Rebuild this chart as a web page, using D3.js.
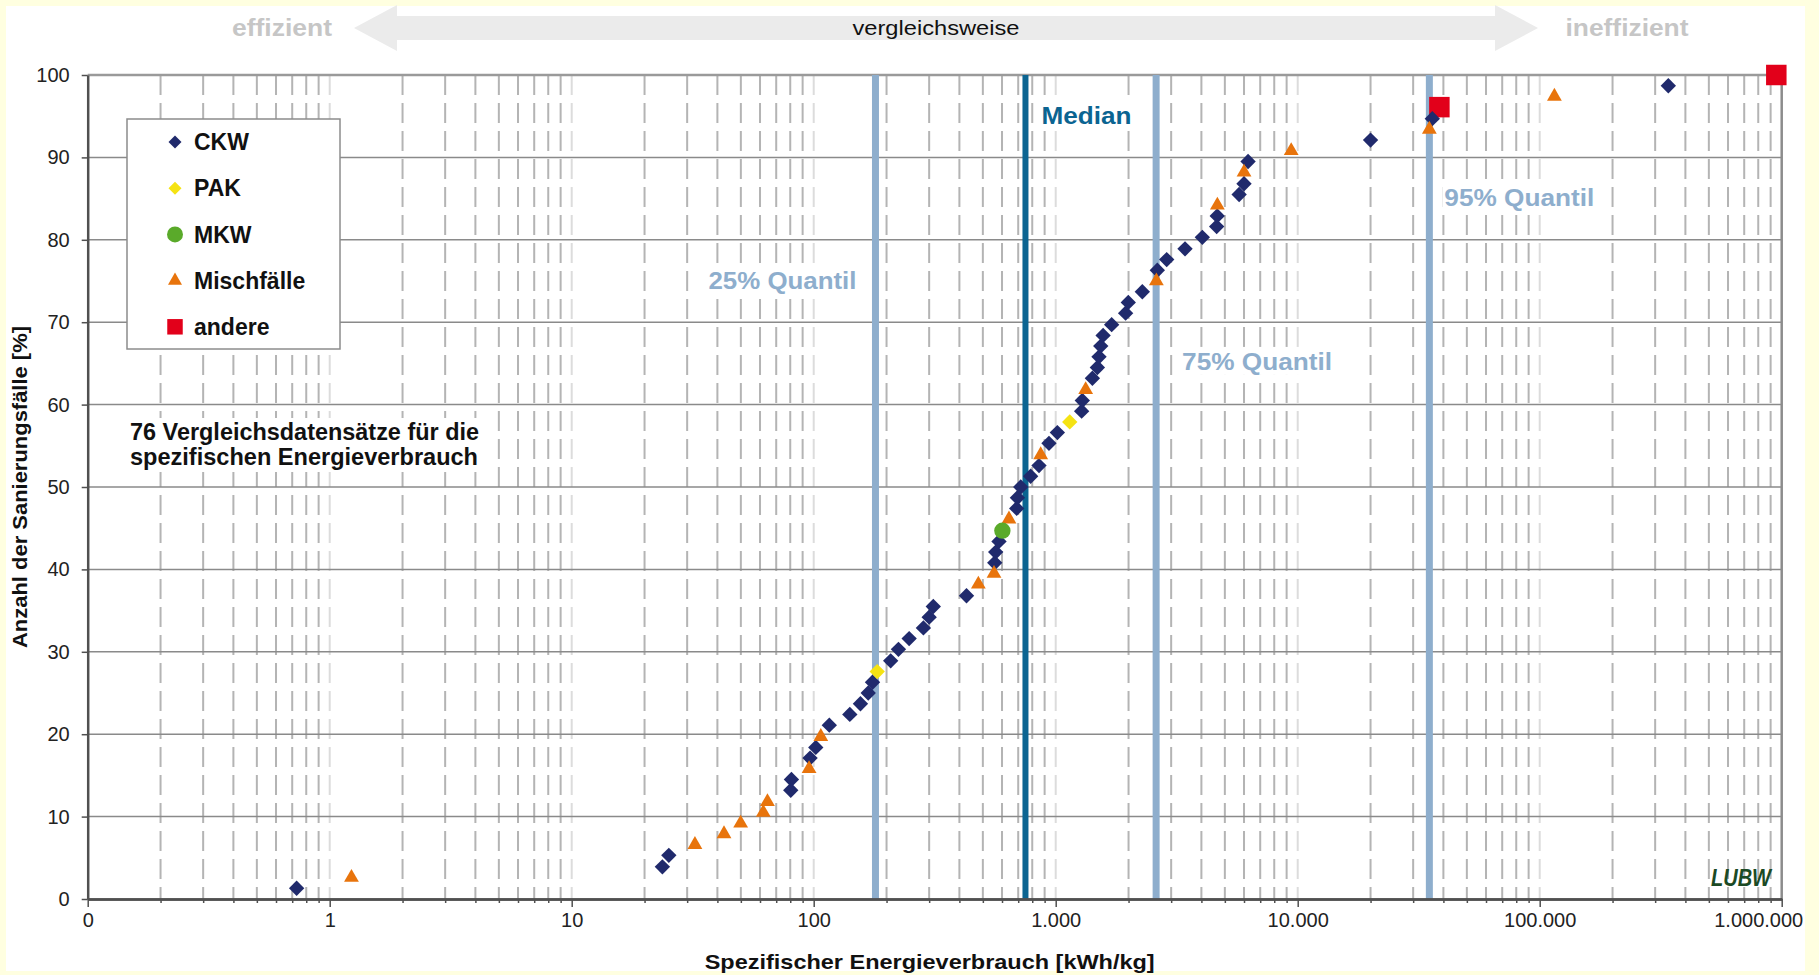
<!DOCTYPE html>
<html>
<head>
<meta charset="utf-8">
<script src="https://cdn.jsdelivr.net/npm/d3@7"></script>
<style>
  body { margin: 0; background: #ffffe0; }
  text { font-family: "Liberation Sans", Arial, sans-serif; }
</style>
</head>
<body>
<div id="chart"></div>
<script>
/* data: x = spezifischer Energieverbrauch [kWh/kg], y = Anzahl der Sanierungsfaelle [%] */
var ckw = [[0.73,1.3],[23.7,3.9],[25.2,5.3],[80.4,13.2],[80.9,14.5],[96.6,17.1],[102,18.4],[116,21.1],
  [141,22.4],[156,23.7],[168,25.0],[175,26.3],[208,28.9],[224,30.3],[248,31.6],[284,32.9],[300,34.2],
  [312,35.5],[428,36.8],[560,40.8],[565,42.1],[583,43.4],[690,47.4],[695,48.7],[717,50.0],[788,51.3],
  [853,52.6],[938,55.3],[1016,56.6],[1280,59.2],[1288,60.5],[1418,63.2],[1487,64.5],[1510,65.8],
  [1535,67.1],[1570,68.4],[1703,69.7],[1945,71.1],[1995,72.4],[2280,73.7],[2630,76.3],[2875,77.6],
  [3423,78.9],[4036,80.3],[4625,81.6],[4650,82.9],[5728,85.5],[6000,86.8],[6237,89.5],[20000,92.1],
  [36000,94.7],[340000,98.7]]
var pak = [[183,27.6],[1143,57.9]]
var mkw = [[602,44.7]]
var misch = [[1.23,2.6],[32.3,6.6],[42.6,7.9],[49.9,9.2],[61.9,10.5],[64.4,11.8],[95.7,15.8],[107,19.7],
  [479,38.2],[556,39.5],[641,46.1],[867,53.9],[1330,61.8],[2606,75.0],[4656,84.2],[6000,88.2],
  [9400,90.8],[35000,93.4],[115000,97.4]]
var andere = [[38500,96.1],[950000,100]]

var quantilNames = ["25% Quantil", "Median", "75% Quantil", "95% Quantil"]
var quantilValues = [180, 750, 2600, 35000]

var xTicks = [0.1, 1, 10, 100, 1000, 10000, 100000, 1000000]
var xTickLabels = ["0", "1", "10", "100", "1.000", "10.000", "100.000", "1.000.000"]
var yTicks = [0, 10, 20, 30, 40, 50, 60, 70, 80, 90, 100]

var legendNames = ["CKW", "PAK", "MKW", "Mischfälle", "andere"]

var width = 1819,
    height = 975;

var svg = d3.select("#chart").append("svg")
    .attr("width", width)
    .attr("height", height)

/* yellow frame + white panel */
svg.append("rect").attr("width", width).attr("height", height).attr("fill", "#ffffe0")
svg.append("rect").attr("x", 6).attr("y", 6).attr("width", 1799).attr("height", 965).attr("fill", "#ffffff")

var x = d3.scaleLog().domain([0.1, 1000000]).range([87.7, 1781.7])
var y = d3.scaleLinear().domain([0, 100]).range([899, 75])

/* top arrow */
var ay = 28
svg.append("polygon")
    .attr("points", [[354,ay],[397,ay-23],[397,ay-12],[1495,ay-12],[1495,ay-23],[1538,ay],
                     [1495,ay+23],[1495,ay+12],[397,ay+12],[397,ay+23]].join(" "))
    .attr("fill", "#ebebeb")

svg.append("text").attr("x", 282).attr("y", ay).attr("dy", "0.35em")
    .attr("text-anchor", "middle").attr("font-weight", "bold").attr("font-size", 23)
    .attr("textLength", 100).attr("lengthAdjust", "spacingAndGlyphs")
    .attr("fill", "#c6c6c6").text("effizient")
svg.append("text").attr("x", 1627).attr("y", ay).attr("dy", "0.35em")
    .attr("text-anchor", "middle").attr("font-weight", "bold").attr("font-size", 23)
    .attr("textLength", 123).attr("lengthAdjust", "spacingAndGlyphs")
    .attr("fill", "#c6c6c6").text("ineffizient")
svg.append("text").attr("x", 936).attr("y", ay).attr("dy", "0.35em")
    .attr("text-anchor", "middle").attr("font-size", 21)
    .attr("textLength", 167).attr("lengthAdjust", "spacingAndGlyphs")
    .attr("fill", "#111").text("vergleichsweise")

/* vertical grid (log minor + decade lines) */
var minor = []
xTicks.slice(0, -1).forEach(function(d){
  for (var m = 2; m < 10; m++) minor.push(d * m)
})
svg.selectAll("line.minor").data(minor).enter().append("line")
    .attr("class", "minor")
    .attr("x1", function(d){return x(d)}).attr("x2", function(d){return x(d)})
    .attr("y1", y(100)).attr("y2", y(0))
    .attr("stroke", "#b4b4b4").attr("stroke-width", 2)
    .attr("stroke-dasharray", "20,8")
svg.selectAll("line.decade").data(xTicks.slice(1, -1)).enter().append("line")
    .attr("class", "decade")
    .attr("x1", function(d){return x(d)}).attr("x2", function(d){return x(d)})
    .attr("y1", y(100)).attr("y2", y(0))
    .attr("stroke", "#dcdcdc").attr("stroke-width", 2)
    .attr("stroke-dasharray", "20,8")

/* horizontal grid */
svg.selectAll("line.hgrid").data(yTicks.slice(1, -1)).enter().append("line")
    .attr("class", "hgrid")
    .attr("x1", x(0.1)).attr("x2", x(1000000))
    .attr("y1", function(d){return y(d)}).attr("y2", function(d){return y(d)})
    .attr("stroke", "#8a8a8a").attr("stroke-width", 1.5)
svg.append("line")
    .attr("x1", x(0.1)).attr("x2", x(1000000)).attr("y1", y(100)).attr("y2", y(100))
    .attr("stroke", "#9a9a9a").attr("stroke-width", 2.5)
svg.append("line")
    .attr("x1", x(1000000)).attr("x2", x(1000000)).attr("y1", y(100)).attr("y2", y(0))
    .attr("stroke", "#8c8c8c").attr("stroke-width", 2.5)

/* quantile lines */
svg.selectAll("line.quantil").data(quantilValues).enter().append("line")
    .attr("class", "quantil")
    .attr("x1", function(d){return x(d)}).attr("x2", function(d){return x(d)})
    .attr("y1", y(100)).attr("y2", y(0))
    .attr("stroke", function(d, i){return i == 1 ? "#0b6491" : "#8eaecd"})
    .attr("stroke-width", function(d, i){return i == 1 ? 6 : 7})

/* quantile labels: offset from line [px], height [%], width [px] */
var qLabelPos = [[-19, 75.1, 148, "end"], [16, 95.1, 90, "start"], [26, 65.3, 150, "start"], [15, 85.2, 150, "start"]]
quantilNames.forEach(function(name, i){
  var p = qLabelPos[i]
  var lx = x(quantilValues[i]) + p[0]
  var left = p[3] == "end" ? lx - p[2] : lx
  svg.append("rect").attr("x", left - 2).attr("y", y(p[1]) - 14).attr("width", p[2] + 4).attr("height", 28)
      .attr("fill", "#fff")
  svg.append("text").attr("x", lx).attr("y", y(p[1])).attr("dy", "0.36em")
      .attr("text-anchor", p[3]).attr("font-weight", "bold").attr("font-size", 24)
      .attr("textLength", p[2]).attr("lengthAdjust", "spacingAndGlyphs")
      .attr("fill", i == 1 ? "#0b6491" : "#8eaecd")
      .text(name)
})

/* axes */
var xMinorAxis = svg.append("g").attr("transform", "translate(0," + y(0) + ")")
    .call(d3.axisBottom(x).tickValues(minor).tickSize(4).tickSizeOuter(0).tickFormat(""))
var xAxis = svg.append("g").attr("transform", "translate(0," + y(0) + ")")
    .call(d3.axisBottom(x).tickValues(xTicks).tickSize(8).tickSizeOuter(0).tickPadding(6)
      .tickFormat(function(d, i){return xTickLabels[i]}))
var yAxis = svg.append("g").attr("transform", "translate(" + x(0.1) + ",0)")
    .call(d3.axisLeft(y).tickValues(yTicks).tickSize(6).tickSizeOuter(0).tickPadding(12))

svg.selectAll(".domain").attr("stroke", "#505050").attr("stroke-width", 2.5)
svg.selectAll(".tick line").attr("stroke", "#505050").attr("stroke-width", 1.5)
svg.selectAll(".tick text").attr("font-family", "'Liberation Sans', Arial, sans-serif")
    .attr("font-size", 20).attr("fill", "#222")
/* last label is pulled inside the panel, as in the original */
xAxis.selectAll(".tick text").filter(function(d){return d == 1000000})
    .attr("text-anchor", "end").attr("dx", 21)

/* axis titles */
svg.append("text")
    .attr("transform", "translate(27," + ((y(0) + y(100)) / 2) + ") rotate(-90)")
    .attr("text-anchor", "middle").attr("font-weight", "bold").attr("font-size", 21)
    .attr("textLength", 322).attr("lengthAdjust", "spacingAndGlyphs")
    .attr("fill", "#111").text("Anzahl der Sanierungsfälle [%]")
svg.append("text")
    .attr("x", (x(0.1) + x(1000000)) / 2 - 5).attr("y", 969)
    .attr("text-anchor", "middle").attr("font-weight", "bold").attr("font-size", 21)
    .attr("textLength", 450).attr("lengthAdjust", "spacingAndGlyphs")
    .attr("fill", "#111").text("Spezifischer Energieverbrauch [kWh/kg]")

/* note */
svg.append("rect").attr("x", 124).attr("y", 418).attr("width", 362).attr("height", 54).attr("fill", "#fff")
svg.append("text").attr("x", 130).attr("y", 440).attr("font-weight", "bold").attr("font-size", 23)
    .attr("textLength", 349).attr("lengthAdjust", "spacingAndGlyphs")
    .attr("fill", "#111").text("76 Vergleichsdatensätze für die")
svg.append("text").attr("x", 130).attr("y", 465).attr("font-weight", "bold").attr("font-size", 23)
    .attr("textLength", 348).attr("lengthAdjust", "spacingAndGlyphs")
    .attr("fill", "#111").text("spezifischen Energieverbrauch")

/* marker shapes */
var diamond = d3.symbol().type(d3.symbolSquare).size(118)
var triangle = d3.symbol().type(d3.symbolTriangle).size(95)
var circle = d3.symbol().type(d3.symbolCircle).size(210)
var square = d3.symbol().type(d3.symbolSquare).size(420)

function pos(d){ return "translate(" + x(d[0]) + "," + y(d[1]) + ")" }

svg.selectAll("path.andere").data(andere).enter().append("path")
    .attr("class", "andere").attr("d", square).attr("transform", pos).attr("fill", "#e2001a")
svg.selectAll("path.ckw").data(ckw).enter().append("path")
    .attr("class", "ckw").attr("d", diamond)
    .attr("transform", function(d){return pos(d) + " rotate(45)"}).attr("fill", "#202a6c")
svg.selectAll("path.misch").data(misch).enter().append("path")
    .attr("class", "misch").attr("d", triangle).attr("transform", pos).attr("fill", "#e8740c")
svg.selectAll("path.pak").data(pak).enter().append("path")
    .attr("class", "pak").attr("d", diamond)
    .attr("transform", function(d){return pos(d) + " rotate(45)"}).attr("fill", "#f5e313")
svg.selectAll("path.mkw").data(mkw).enter().append("path")
    .attr("class", "mkw").attr("d", circle).attr("transform", pos).attr("fill", "#5aaa2a")

/* legend */
var legend = svg.append("g")
legend.append("rect").attr("x", 127).attr("y", 119).attr("width", 213).attr("height", 230)
    .attr("fill", "#fff").attr("stroke", "#8c8c8c").attr("stroke-width", 1.5)
var legendShapes = [
  {d: d3.symbol().type(d3.symbolSquare).size(85)(), rot: 45, fill: "#202a6c"},
  {d: d3.symbol().type(d3.symbolSquare).size(85)(), rot: 45, fill: "#f5e313"},
  {d: d3.symbol().type(d3.symbolCircle).size(200)(), rot: 0, fill: "#5aaa2a"},
  {d: d3.symbol().type(d3.symbolTriangle).size(85)(), rot: 0, fill: "#e8740c"},
  {d: d3.symbol().type(d3.symbolSquare).size(240)(), rot: 0, fill: "#e2001a"}
]
var legendItems = legend.selectAll("g.item").data(legendNames).enter().append("g")
    .attr("class", "item")
    .attr("transform", function(d, i){return "translate(0," + (142 + i * 46.2) + ")"})
legendItems.append("path")
    .attr("d", function(d, i){return legendShapes[i].d})
    .attr("transform", function(d, i){return "translate(175,0) rotate(" + legendShapes[i].rot + ")"})
    .attr("fill", function(d, i){return legendShapes[i].fill})
legendItems.append("text")
    .attr("x", 194).attr("dy", "0.36em")
    .attr("font-weight", "bold").attr("font-size", 23).attr("fill", "#111")
    .text(function(d){return d})

/* logo */
svg.append("text").attr("x", 1741).attr("y", 877).attr("dy", "0.36em")
    .attr("text-anchor", "middle").attr("font-weight", "bold").attr("font-style", "italic")
    .attr("font-size", 24).attr("textLength", 60).attr("lengthAdjust", "spacingAndGlyphs")
    .attr("fill", "#1b4a25").text("LUBW")
</script>
</body>
</html>
